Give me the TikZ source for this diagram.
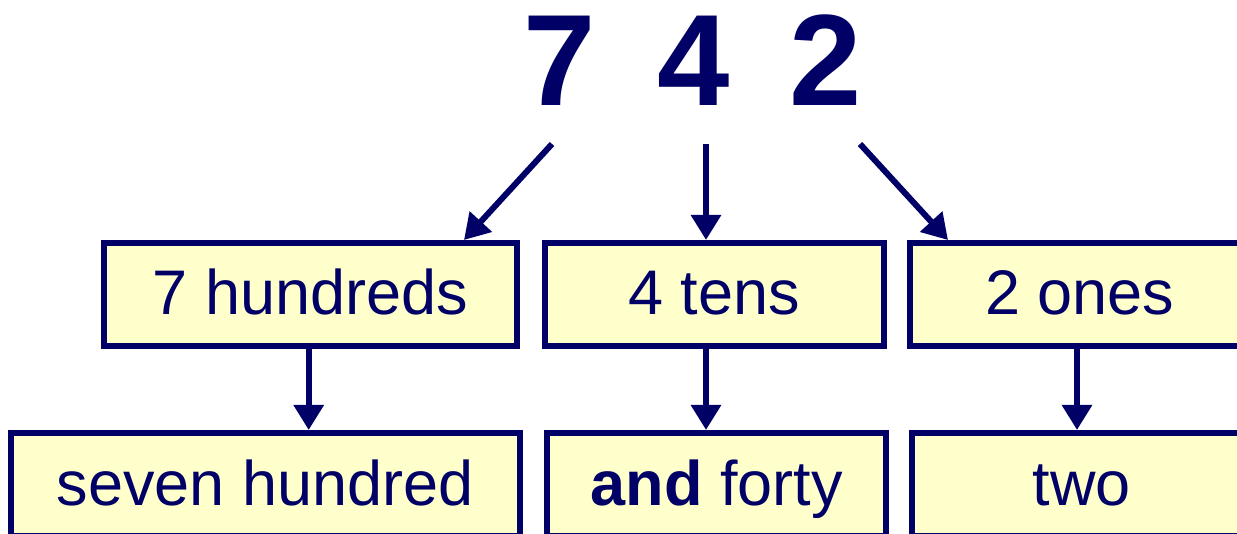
\documentclass[tikz,border=0pt]{standalone}
\usepackage{fontspec}
\setmainfont{Liberation Sans}
\usetikzlibrary{arrows.meta}
\definecolor{navy}{RGB}{0,0,102}
\definecolor{paleyellow}{RGB}{255,255,204}
\begin{document}
\begin{tikzpicture}[x=1pt,y=-1pt,
  box/.style={draw=navy, fill=paleyellow, line width=6pt, inner sep=0pt,
    minimum height=103pt, text=navy, text height=45pt, text depth=4pt,
    font=\fontsize{63}{75}\selectfont},
  digit/.style={anchor=base, inner sep=0pt, text=navy,
    font=\fontsize{130}{150}\selectfont\bfseries},
  arr/.style={draw=navy, line width=6pt, -{Triangle[width=29pt,length=25pt]}}]
\useasboundingbox (0,0) rectangle (1237,534);
\begin{scope}
\clip (0,0) rectangle (1237,534);
% digits
\node[digit] (d7) at (560,106) {7};
\node[digit] (d4) at (694,106) {4};
\node[digit] (d2) at (826,106) {2};
% row 1
\node[box, minimum width=413pt] (A) at (310.5,294.5) {7 hundreds};
\node[box, minimum width=339.5pt] (B) at (714.25,294.5) {4 tens};
\node[box, minimum width=340pt] (C) at (1080,294.5) {2 ones};
% row 2
\node[box, minimum width=508.7pt] (D) at (265.3,484.5) {seven hundred};
\node[box, minimum width=339pt] (E) at (716.8,484.5) {\textbf{and} forty};
\node[box, minimum width=340pt] (F) at (1082,484.5) {two};
% arrow coordinates
\coordinate (s7) at (552,144);
\coordinate (s4) at (706,144);
\coordinate (s2) at (860,144);
\coordinate (e7) at (464,0);
\coordinate (e2) at (948,0);
\coordinate (c1) at (308.7,0);
\coordinate (c2) at (706,0);
\coordinate (c3) at (1077,0);
\draw[arr] (s7) -- (A.north -| e7);
\draw[arr] (s4) -- (B.north -| s4);
\draw[arr] (s2) -- (C.north -| e2);
\draw[arr] (A.south -| c1) -- (D.north -| c1);
\draw[arr] (B.south -| c2) -- (E.north -| c2);
\draw[arr] (C.south -| c3) -- (F.north -| c3);
\end{scope}
\end{tikzpicture}
\end{document}
